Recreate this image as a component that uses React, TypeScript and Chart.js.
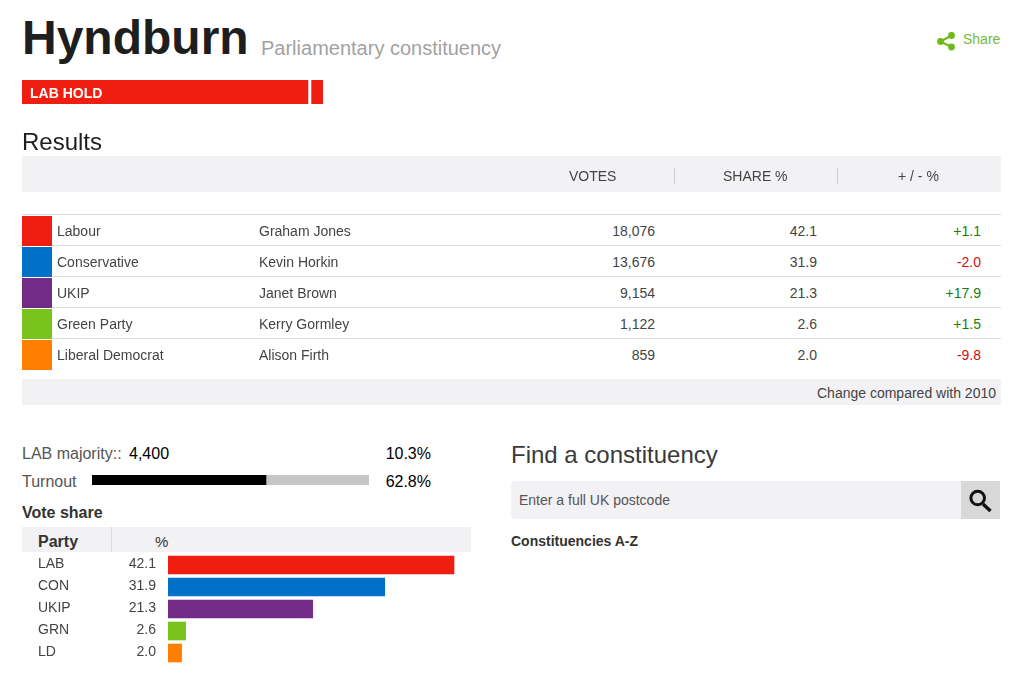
import { useEffect, useRef } from "react"
import type { CSSProperties, ReactNode } from "react"
import { Chart, registerables } from "chart.js"

Chart.register(...registerables)

const FONT = '"Liberation Sans", Arial, sans-serif'

const parties = ["Labour", "Conservative", "UKIP", "Green Party", "Liberal Democrat"]
const partyCodes = ["LAB", "CON", "UKIP", "GRN", "LD"]
const candidates = ["Graham Jones", "Kevin Horkin", "Janet Brown", "Kerry Gormley", "Alison Firth"]
const votes = ["18,076", "13,676", "9,154", "1,122", "859"]
const shares = [42.1, 31.9, 21.3, 2.6, 2.0]
const changes = [1.1, -2.0, 17.9, 1.5, -9.8]
const partyColors = ["#f01e10", "#0070c9", "#722b87", "#78c31c", "#ff8000"]

const turnout = [62.8, 37.2]
const turnoutColors = ["#000000", "#c6c6c6"]
// the little red strip under the title: main part, white gap, remainder
const holdStrip = [95, 1, 4]
const holdColors = ["#f01e10", "#ffffff", "#f01e10"]

const rowCenters = [231, 262, 293, 324, 355]
const rowLines = [214, 245, 276, 307, 338]

function StackedStrip({ values, colors, width, height, max }: {
  values: number[]
  colors: string[]
  width: number
  height: number
  max: number
}) {
  const canvasRef = useRef<HTMLCanvasElement>(null)

  useEffect(() => {
    if (!canvasRef.current) return
    const chart = new Chart(canvasRef.current, {
      type: "bar",
      data: {
        labels: [""],
        datasets: values.map((v, i) => ({
          data: [v],
          backgroundColor: colors[i],
          barPercentage: 1,
          categoryPercentage: 1,
        })),
      },
      options: {
        indexAxis: "y",
        responsive: false,
        animation: false,
        layout: { padding: 0 },
        plugins: { legend: { display: false }, tooltip: { enabled: false } },
        scales: {
          x: { display: false, stacked: true, min: 0, max },
          y: { display: false, stacked: true },
        },
      },
    })
    return () => chart.destroy()
  }, [values, colors, max])

  return <canvas ref={canvasRef} width={width} height={height} style={{ display: "block", width, height }} />
}

function VoteShareChart() {
  const canvasRef = useRef<HTMLCanvasElement>(null)

  useEffect(() => {
    if (!canvasRef.current) return

    // writes the party and percentage columns to the left of the bars
    const rowLabels = {
      id: "rowLabels",
      afterDraw(chart: Chart) {
        const { ctx, scales } = chart
        ctx.save()
        ctx.font = `14px ${FONT}`
        ctx.fillStyle = "#444444"
        ctx.textBaseline = "middle"
        partyCodes.forEach((code, i) => {
          // text sits slightly above the middle of its bar
          const y = scales.y.getPixelForValue(i) - 1
          ctx.textAlign = "left"
          ctx.fillText(code, 0, y)
          ctx.textAlign = "right"
          ctx.fillText(shares[i].toFixed(1), 118, y)
        })
        ctx.restore()
      },
    }

    const chart = new Chart(canvasRef.current, {
      type: "bar",
      data: {
        labels: partyCodes,
        datasets: [
          {
            label: "Vote share",
            data: shares,
            backgroundColor: partyColors,
            barThickness: 18,
          },
        ],
      },
      options: {
        indexAxis: "y",
        responsive: false,
        animation: false,
        layout: { padding: { left: 130 } },
        plugins: { legend: { display: false }, tooltip: { enabled: false } },
        scales: {
          x: { display: false, min: 0, max: 44.6 },
          y: { display: false },
        },
      },
      plugins: [rowLabels],
    })
    return () => chart.destroy()
  }, [])

  return <canvas ref={canvasRef} width={433} height={110} style={{ display: "block", width: 433, height: 110 }} />
}

function Box({ x, y, w, h, bg, radius }: { x: number; y: number; w: number; h: number; bg: string; radius?: number }) {
  return <div style={{ position: "absolute", left: x, top: y, width: w, height: h, background: bg, borderRadius: radius }} />
}

// text placed by its vertical centre; right-aligned when `right` is given
function Label({ x, right, cy, size = 14, color = "#444444", bold, children }: {
  x?: number
  right?: number
  cy: number
  size?: number
  color?: string
  bold?: boolean
  children: ReactNode
}) {
  const style: CSSProperties = {
    position: "absolute",
    top: cy - 20,
    height: 40,
    lineHeight: "40px",
    fontSize: size,
    color,
    fontWeight: bold ? 700 : 400,
    whiteSpace: "nowrap",
  }
  if (right !== undefined) style.right = 1024 - right
  else style.left = x
  return <div style={style}>{children}</div>
}

export default function App() {
  return (
    <div style={{ position: "relative", width: 1024, height: 674, overflow: "hidden", background: "#fff", fontFamily: FONT }}>
      <style>{"body{margin:0}"}</style>

      <Label x={22} cy={38} size={48} color="#1e1e1e" bold>Hyndburn</Label>
      <Label x={261} cy={48} size={20} color="#a2a2a2">Parliamentary constituency</Label>

      <svg style={{ position: "absolute", left: 936, top: 31 }} width={20} height={20} viewBox="0 0 20 20">
        <path d="M15.5 4.5 L4.5 10.5 L15.5 16" fill="none" stroke="#6cba17" strokeWidth={2} />
        <circle cx={15.5} cy={4.5} r={3.4} fill="#6cba17" />
        <circle cx={4.5} cy={10.5} r={3.4} fill="#6cba17" />
        <circle cx={15.5} cy={16} r={3.4} fill="#6cba17" />
      </svg>
      <Label x={963} cy={39} color="#7ab83c">Share</Label>

      <div style={{ position: "absolute", left: 22, top: 80 }}>
        <StackedStrip values={holdStrip} colors={holdColors} width={301} height={24} max={100} />
      </div>
      <Label x={30} cy={93} color="#ffffff" bold>LAB HOLD</Label>

      <Label x={22} cy={142} size={24} color="#1e1e1e">Results</Label>

      <Box x={22} y={156} w={979} h={36} bg="#f2f1f4" />
      <Box x={674} y={168} w={1} h={16} bg="#cccccc" />
      <Box x={837} y={168} w={1} h={16} bg="#cccccc" />
      <Label x={569} cy={176}>VOTES</Label>
      <Label x={723} cy={176}>SHARE %</Label>
      <Label x={898} cy={176}>+ / - %</Label>

      {rowLines.map((y) => (
        <Box key={y} x={22} y={y} w={979} h={1} bg="#dcdcdc" />
      ))}
      {parties.map((p, i) => (
        <div key={p}>
          <Box x={22} y={rowCenters[i] - 15} w={30} h={30} bg={partyColors[i]} />
          <Label x={57} cy={rowCenters[i]}>{p}</Label>
          <Label x={259} cy={rowCenters[i]}>{candidates[i]}</Label>
          <Label right={655} cy={rowCenters[i]}>{votes[i]}</Label>
          <Label right={817} cy={rowCenters[i]}>{shares[i].toFixed(1)}</Label>
          <Label right={981} cy={rowCenters[i]} color={changes[i] >= 0 ? "#118211" : "#d40d12"}>
            {(changes[i] >= 0 ? "+" : "-") + Math.abs(changes[i]).toFixed(1)}
          </Label>
        </div>
      ))}

      <Box x={22} y={379} w={979} h={26} bg="#f2f1f4" />
      <Label right={996} cy={393}>Change compared with 2010</Label>

      <Label x={22} cy={454} size={16} color="#555555">LAB majority::</Label>
      <Label x={129} cy={454} size={16} color="#000000">4,400</Label>
      <Label right={431} cy={454} size={16} color="#000000">10.3%</Label>

      <Label x={22} cy={482} size={16} color="#555555">Turnout</Label>
      <div style={{ position: "absolute", left: 92, top: 475 }}>
        <StackedStrip values={turnout} colors={turnoutColors} width={277} height={10} max={100} />
      </div>
      <Label right={431} cy={482} size={16} color="#000000">62.8%</Label>

      <Label x={22} cy={513} size={16} color="#333333" bold>Vote share</Label>

      <Box x={22} y={527} w={449} h={25} bg="#f2f1f4" />
      <Box x={111} y={527} w={1} h={25} bg="#dcdcdc" />
      <Label x={38} cy={542} size={16} color="#333333" bold>Party</Label>
      <Label x={155} cy={542} size={15} color="#333333">%</Label>

      <div style={{ position: "absolute", left: 38, top: 554 }}>
        <VoteShareChart />
      </div>

      <Label x={511} cy={455} size={24} color="#3a3a3a">Find a constituency</Label>
      <Box x={511} y={481} w={489} h={38} bg="#f2f1f4" radius={4} />
      <Box x={961} y={481} w={39} h={38} bg="#d8d8d8" />
      <Label x={519} cy={500} color="#555555">Enter a full UK postcode</Label>
      <svg style={{ position: "absolute", left: 968, top: 488 }} width={26} height={26} viewBox="0 0 26 26">
        <circle cx={9.7} cy={10} r={6.8} fill="none" stroke="#111111" strokeWidth={3} />
        <path d="M15 16 L22.5 23" stroke="#111111" strokeWidth={3.4} />
      </svg>
      <Label x={511} cy={541} color="#333333" bold>Constituencies A-Z</Label>
    </div>
  )
}
